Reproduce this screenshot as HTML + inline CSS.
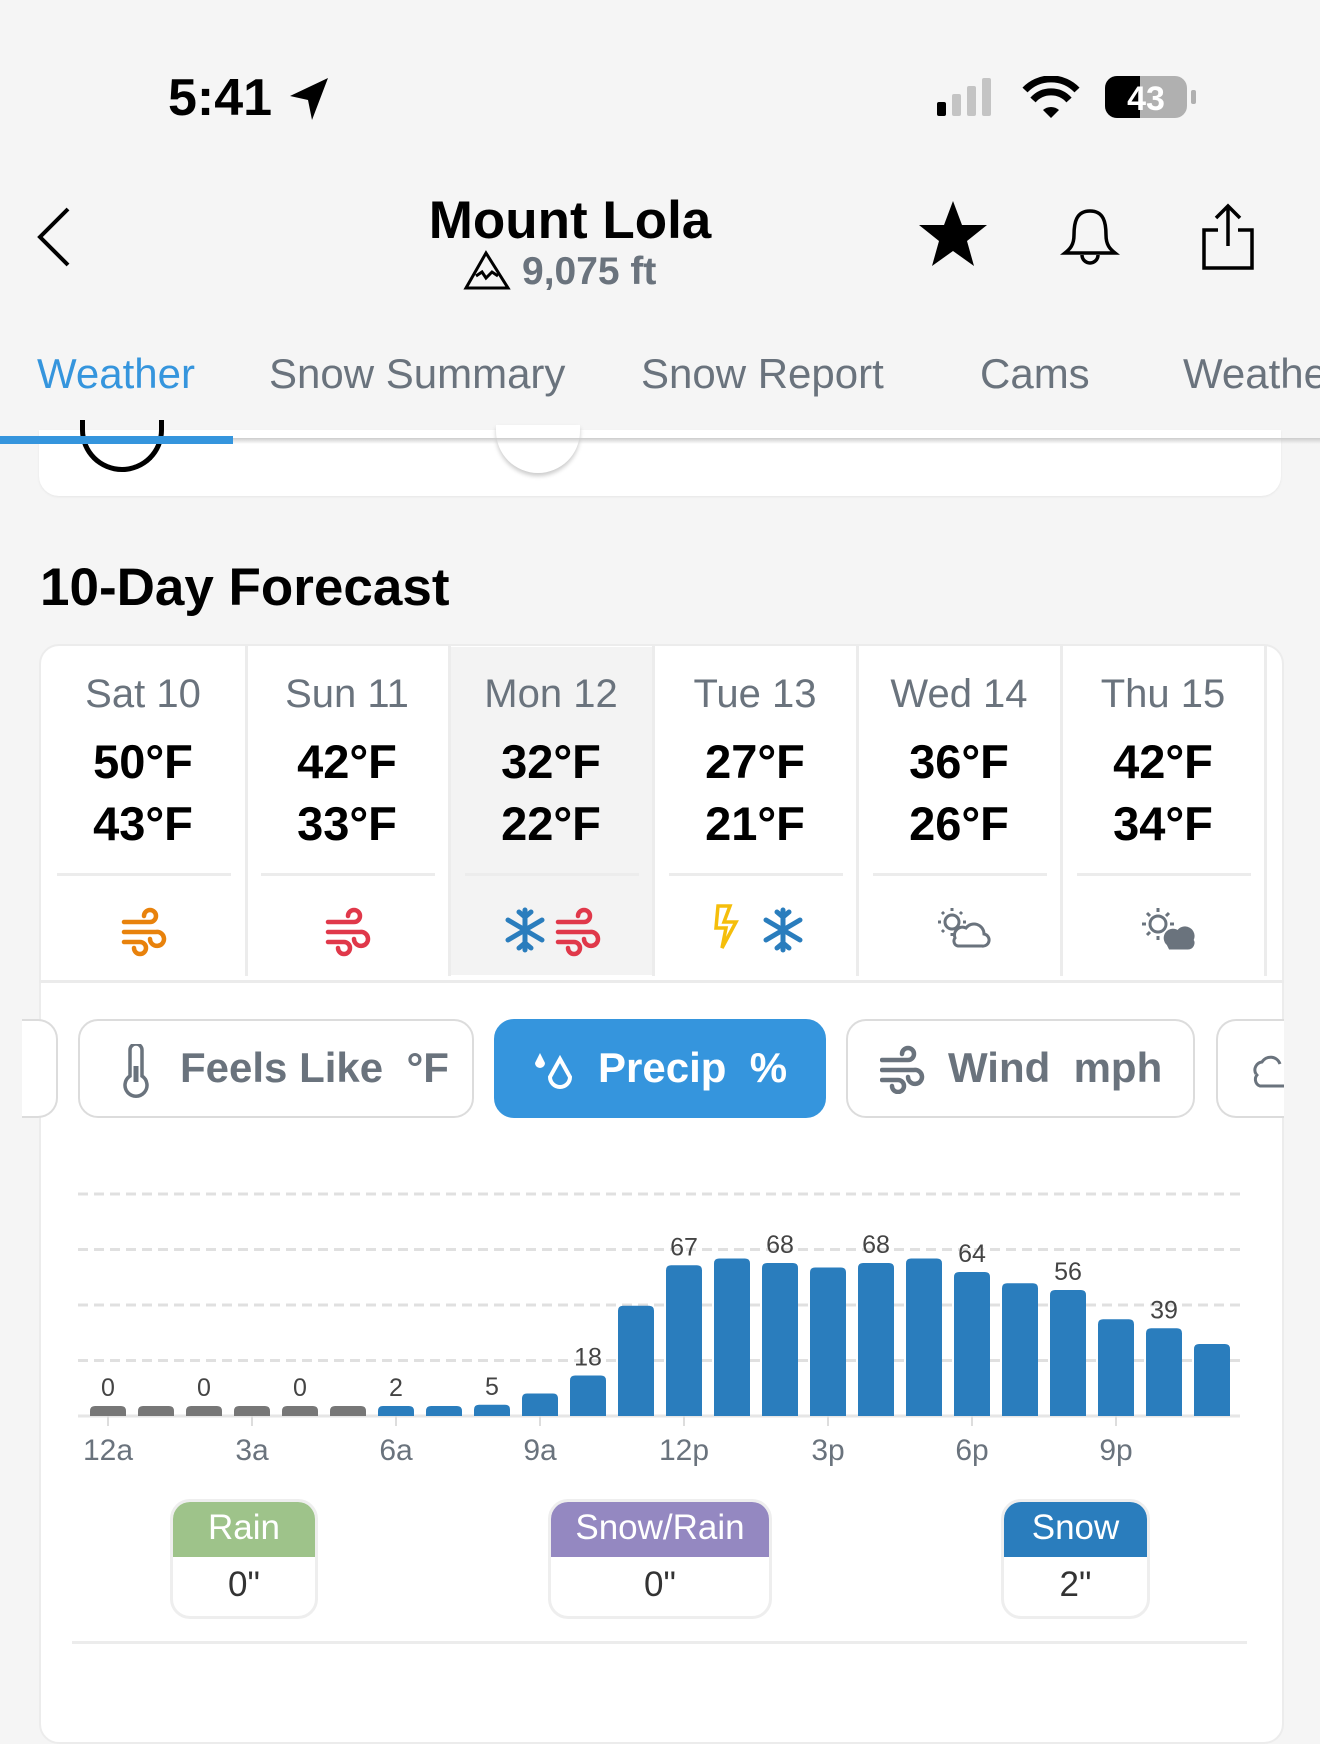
<!DOCTYPE html>
<html><head><meta charset="utf-8"><style>
*{margin:0;padding:0;box-sizing:border-box}
body{width:1320px;height:1696px;background:#f5f5f5;font-family:"Liberation Sans",sans-serif;position:relative;overflow:hidden}
.a{position:absolute}
.c{text-align:center}
.day{position:absolute;width:204px;text-align:center;top:672px}
.dn{font-size:40px;color:#6a737d;height:52px}
.hi{font-size:47px;font-weight:bold;color:#000;margin-top:10px;height:62px}
.lo{font-size:47px;font-weight:bold;color:#000;height:62px}
.chip{position:absolute;top:1019px;height:99px;border:2.5px solid #dcdcdc;border-radius:20px;background:#fff;font-size:42px;color:#6a737d;font-weight:bold;line-height:94px}
.tab{position:absolute;top:350px;font-size:42px;color:#6a737d}
</style></head><body>
<div class="a" style="left:168px;top:68px;font-size:52px;font-weight:bold;color:#000">5:41</div>
<svg class="a" style="left:288px;top:76px" width="44" height="46" viewBox="0 0 44 46"><path d="M40 2 L2 20 L20 24 L24 44 Z" fill="#000"/></svg>
<svg class="a" style="left:935px;top:76px" width="270" height="46"><rect x="2" y="26" width="9" height="14" rx="2" fill="#000"/><rect x="17" y="18" width="9" height="22" rx="2" fill="#c4c4c4"/><rect x="32" y="10" width="9" height="30" rx="2" fill="#c4c4c4"/><rect x="47" y="2" width="9" height="38" rx="2" fill="#c4c4c4"/>
<path d="M90 14 A36 36 0 0 1 142 14" stroke="#000" stroke-width="7" fill="none"/><path d="M98 24 A24 24 0 0 1 134 24" stroke="#000" stroke-width="7" fill="none"/><path d="M108 34 L116 42 L124 34 A12 12 0 0 0 108 34Z" fill="#000"/>
<rect x="170" y="0" width="82" height="42" rx="12" fill="#b0b0b0"/><path d="M182 0 H205 V42 H182 A12 12 0 0 1 170 30 V12 A12 12 0 0 1 182 0Z" fill="#000"/><text x="211" y="34" font-size="34" font-weight="bold" fill="#fff" text-anchor="middle" font-family="Liberation Sans">43</text><rect x="256" y="14" width="5" height="14" rx="2" fill="#b0b0b0"/></svg>
<svg class="a" style="left:34px;top:205px" width="40" height="64"><path d="M34 4 L6 32 L34 60" stroke="#000" stroke-width="4" fill="none"/></svg>
<div class="a c" style="left:360px;width:420px;top:190px;font-size:53px;font-weight:bold;color:#000">Mount Lola</div>
<svg class="a" style="left:462px;top:250px" width="50" height="42"><path d="M24 3 L4 38 H46 Z M14 26 L20 22 L24 28 L30 22 L36 26" stroke="#000" stroke-width="3" fill="none"/></svg>
<div class="a" style="left:522px;top:250px;font-size:39px;color:#6a737d;font-weight:bold">9,075 ft</div>
<svg class="a" style="left:918px;top:198px" width="70" height="70"><path d="M35 3 L44 27 L69 27 L49 43 L56 68 L35 53 L14 68 L21 43 L1 27 L26 27Z" fill="#000"/></svg>
<svg class="a" style="left:1060px;top:205px" width="60" height="65"><path d="M30 6 C16 6 14 18 14 30 C14 40 10 44 5 48 H55 C50 44 46 40 46 30 C46 18 44 6 30 6Z M22 50 A8 8 0 0 0 38 50" stroke="#000" stroke-width="3.5" fill="none"/></svg>
<svg class="a" style="left:1198px;top:202px" width="60" height="72"><path d="M30 4 V44 M18 16 L30 4 L42 16 M20 28 H6 V66 H54 V28 H40" stroke="#000" stroke-width="3.5" fill="none"/></svg>
<div class="tab" style="left:37px;color:#3595dd">Weather</div>
<div class="tab" style="left:269px">Snow Summary</div>
<div class="tab" style="left:641px">Snow Report</div>
<div class="tab" style="left:980px">Cams</div>
<div class="tab" style="left:1183px">Weather</div>
<div class="a" style="left:0;top:441px;width:1320px;height:55px;background:#f5f5f5"></div>
<div class="a" style="left:39px;top:430px;width:1242px;height:66px;background:#fff;border-radius:0 0 20px 20px;box-shadow:0 1px 2px #e6e6e6"></div>
<div class="a" style="left:80px;top:420px;width:84px;height:52px;border:5px solid #000;border-top:none;border-radius:0 0 42px 42px"></div>
<div class="a" style="left:496px;top:425px;width:84px;height:48px;background:#fff;border-radius:0 0 42px 42px;box-shadow:0 3px 4px #ccc"></div>
<div class="a" style="left:0;top:438px;width:1320px;height:6px;background:linear-gradient(#ccc,rgba(0,0,0,0))"></div>
<div class="a" style="left:0;top:436px;width:233px;height:8px;background:#3595dd"></div>
<div class="a" style="left:40px;top:557px;font-size:53px;font-weight:bold;color:#000">10-Day Forecast</div>
<div class="a" style="left:39px;top:644px;width:1245px;height:1100px;background:#fff;border-radius:20px;border:2px solid #ececec"></div>
<div class="a" style="left:449px;top:647px;width:204px;height:328px;background:#f3f3f3"></div>
<div class="a" style="left:245px;top:646px;width:3px;height:330px;background:#ececec"></div>
<div class="a" style="left:448px;top:646px;width:3px;height:330px;background:#ececec"></div>
<div class="a" style="left:652px;top:646px;width:3px;height:330px;background:#ececec"></div>
<div class="a" style="left:856px;top:646px;width:3px;height:330px;background:#ececec"></div>
<div class="a" style="left:1060px;top:646px;width:3px;height:330px;background:#ececec"></div>
<div class="a" style="left:1264px;top:646px;width:3px;height:330px;background:#ececec"></div>
<div class="a" style="left:39px;top:980px;width:1245px;height:3px;background:#ebebeb"></div>
<div class="day" style="left:41px"><div class="dn">Sat 10</div><div class="hi">50°F</div><div class="lo">43°F</div></div>
<div class="day" style="left:245px"><div class="dn">Sun 11</div><div class="hi">42°F</div><div class="lo">33°F</div></div>
<div class="day" style="left:449px"><div class="dn">Mon 12</div><div class="hi">32°F</div><div class="lo">22°F</div></div>
<div class="day" style="left:653px"><div class="dn">Tue 13</div><div class="hi">27°F</div><div class="lo">21°F</div></div>
<div class="day" style="left:857px"><div class="dn">Wed 14</div><div class="hi">36°F</div><div class="lo">26°F</div></div>
<div class="day" style="left:1061px"><div class="dn">Thu 15</div><div class="hi">42°F</div><div class="lo">34°F</div></div>
<div class="a" style="left:57px;top:873px;width:174px;height:3px;background:#ececec"></div>
<div class="a" style="left:261px;top:873px;width:174px;height:3px;background:#ececec"></div>
<div class="a" style="left:465px;top:873px;width:174px;height:3px;background:#ececec"></div>
<div class="a" style="left:669px;top:873px;width:174px;height:3px;background:#ececec"></div>
<div class="a" style="left:873px;top:873px;width:174px;height:3px;background:#ececec"></div>
<div class="a" style="left:1077px;top:873px;width:174px;height:3px;background:#ececec"></div>
<svg class="a" style="left:0;top:900px" width="1320" height="60">
<defs><g id="w"><path d="M2 16 H28 A6 6 0 1 0 22 10 M2 26 H34 A7 7 0 1 1 28 33 M2 36 H18 A6 6 0 1 1 12 42" stroke-width="4.5" fill="none" stroke-linecap="round"/></g>
<g id="s" stroke="#2a7dbd" stroke-width="5" stroke-linecap="round"><path d="M20 4 V44 M3 14 L37 34 M3 34 L37 14 M14 6 L20 11 L26 6 M14 42 L20 37 L26 42"/></g></defs>
<use href="#w" x="122" y="6" stroke="#e8820c"/>
<use href="#w" x="326" y="6" stroke="#e0384a"/>
<use href="#s" x="505" y="6"/><use href="#w" x="556" y="6" stroke="#e0384a"/>
<path d="M718 6 H730 L724 22 H736 L722 48 L726 28 H716Z" stroke="#f5be0b" stroke-width="3.5" fill="none"/>
<use href="#s" x="763" y="6"/>
<g stroke="#6a737d" stroke-width="3" fill="none"><circle cx="952" cy="22" r="7"/><path d="M952 8 V11 M952 33 V36 M938 22 H941 M963 22 H966 M942 12 L944 14 M962 12 L960 14 M942 32 L944 30" /><path d="M955 38 A8 8 0 0 1 966 28 A10 10 0 0 1 984 34 A6 6 0 0 1 982 46 H958 A5 5 0 0 1 955 38Z" fill="#fff"/>
<circle cx="1158" cy="24" r="8"/><path d="M1158 8 V12 M1158 36 V40 M1142 24 H1146 M1170 24 H1174 M1147 13 L1150 16 M1169 13 L1166 16 M1147 35 L1150 32"/><path d="M1168 44 A7 7 0 0 1 1178 32 A8 8 0 0 1 1192 40 A5 5 0 0 1 1188 48 H1170Z" fill="#6a737d"/></g>
</svg>
<div class="chip" style="left:22px;width:36px;border-left:none;border-radius:0 20px 20px 0"></div>
<div class="chip" style="left:78px;width:396px;padding-left:100px">Feels Like &nbsp;°F</div>
<svg class="a" style="left:118px;top:1044px" width="36" height="54"><path d="M12 6 A6 6 0 0 1 24 6 V32 A11 11 0 1 1 12 32Z" stroke="#6a737d" stroke-width="3.5" fill="none"/><path d="M18 22 V38" stroke="#6a737d" stroke-width="5"/></svg>
<div class="chip" style="left:494px;width:332px;background:#3595dd;border-color:#3595dd;color:#fff;padding-left:102px">Precip &nbsp;%</div>
<svg class="a" style="left:530px;top:1045px" width="50" height="50"><path d="M10 8 L15 18 A5 5 0 1 1 5 18Z" fill="#fff"/><path d="M30 14 L40 32 A10 10 0 1 1 20 32Z" stroke="#fff" stroke-width="4" fill="none"/></svg>
<div class="chip" style="left:846px;width:349px;padding-left:100px">Wind &nbsp;mph</div>
<svg class="a" style="left:880px;top:1044px" width="50" height="50"><use href="#w" stroke="#6a737d"/></svg>
<div class="chip" style="left:1216px;width:80px;border-right:none;border-radius:20px 0 0 20px"></div>
<svg class="a" style="left:1248px;top:1052px" width="36" height="40"><path d="M8 22 A8 8 0 0 1 14 10 A10 10 0 0 1 32 12 M10 22 A7 7 0 0 0 12 34 H36" stroke="#6a737d" stroke-width="3" fill="none"/></svg>
<div class="a" style="left:1284px;top:1000px;width:36px;height:140px;background:#f5f5f5"></div>
<svg class="a" style="left:0;top:1150px" width="1320" height="330" font-family="Liberation Sans">
<g stroke="#e0e0e0" stroke-width="3" stroke-dasharray="10 6"><path d="M78 44 H1240 M78 99.5 H1240 M78 155 H1240 M78 210.5 H1240"/></g>
<path d="M78 266 H1240" stroke="#e6e6e6" stroke-width="3"/>
<g id="bars"></g>
<g stroke="#ddd" stroke-width="2"><path d="M108 266 V276 M252 266 V276 M396 266 V276 M540 266 V276 M684 266 V276 M828 266 V276 M972 266 V276 M1116 266 V276"/></g>
<g font-size="30" fill="#6a737d" text-anchor="middle"><text x="108" y="310">12a</text><text x="252" y="310">3a</text><text x="396" y="310">6a</text><text x="540" y="310">9a</text><text x="684" y="310">12p</text><text x="828" y="310">3p</text><text x="972" y="310">6p</text><text x="1116" y="310">9p</text></g>
</svg>
<script>
var v=[0,0,0,0,0,0,2,2,5,10,18,49,67,70,68,66,68,70,64,59,56,43,39,32],s='';
for(var i=0;i<24;i++){var h=v[i]==0?10:Math.max(v[i]*2.25,10),x=90+48*i,y=266-h;
s+='<path d="M'+x+' 266 V'+(y+5)+' Q'+x+' '+y+' '+(x+5)+' '+y+' H'+(x+31)+' Q'+(x+36)+' '+y+' '+(x+36)+' '+(y+5)+' V266Z" fill="'+(v[i]==0?'#777':'#2a7dbd')+'"/>';
if(i%2==0)s+='<text x="'+(x+18)+'" y="'+(y-10)+'" font-size="25" fill="#444" text-anchor="middle">'+v[i]+'</text>';}
document.getElementById('bars').innerHTML=s;
</script>
<div class="a" style="left:170px;top:1499px;width:148px;height:120px;border:3px solid #eee;border-radius:20px;overflow:hidden;background:#fff">
<div style="height:58px;background:#9ec38a;color:#fff;font-size:35px;text-align:center;line-height:58px;margin:-3px">Rain</div>
<div style="font-size:35px;color:#333;text-align:center;line-height:62px">0"</div></div>
<div class="a" style="left:548px;top:1499px;width:224px;height:120px;border:3px solid #eee;border-radius:20px;overflow:hidden;background:#fff">
<div style="height:58px;background:#9488c1;color:#fff;font-size:35px;text-align:center;line-height:58px;margin:-3px">Snow/Rain</div>
<div style="font-size:35px;color:#333;text-align:center;line-height:62px">0"</div></div>
<div class="a" style="left:1001px;top:1499px;width:149px;height:120px;border:3px solid #eee;border-radius:20px;overflow:hidden;background:#fff">
<div style="height:58px;background:#2a7dbd;color:#fff;font-size:35px;text-align:center;line-height:58px;margin:-3px">Snow</div>
<div style="font-size:35px;color:#333;text-align:center;line-height:62px">2"</div></div>
<div class="a" style="left:72px;top:1641px;width:1175px;height:3px;background:#ececec"></div>
</body></html>
